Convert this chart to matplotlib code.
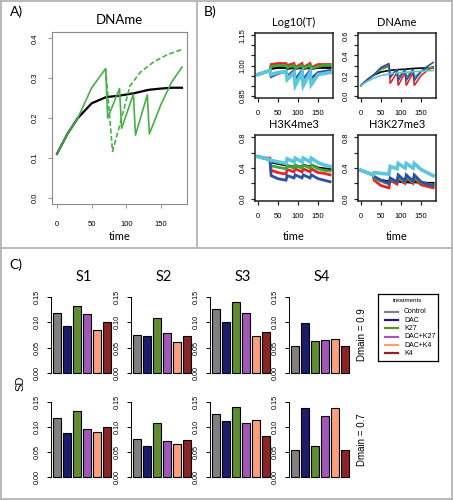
import matplotlib
matplotlib.use("Agg")
import matplotlib.pyplot as plt
from matplotlib.lines import Line2D

# ---------------- data ----------------
# panel A: DNAme
tA = [0, 15, 30, 50, 70, 73, 90, 93, 110, 113, 130, 133, 150, 165, 180]
dnaA_control = [0.11, 0.16, 0.20, 0.237, 0.252, 0.253, 0.256, 0.257, 0.262, 0.263, 0.270, 0.271, 0.274, 0.276, 0.276]
dnaA_pulse = [0.11, 0.16, 0.20, 0.276, 0.324, 0.20, 0.274, 0.174, 0.26, 0.157, 0.258, 0.16, 0.235, 0.29, 0.328]
tA_single = [70, 80, 90, 105, 120, 140, 160, 180]
dnaA_single = [0.324, 0.116, 0.18, 0.28, 0.315, 0.342, 0.36, 0.372]

# panel B: simulated marks, one series per colour
tB = [0, 15, 30, 33, 50, 70, 73, 90, 93, 110, 113, 130, 133, 150, 165, 180]
logT_black = [0.955, 0.965, 0.975, 0.985, 0.99, 0.99, 0.985, 0.99, 0.985, 0.99, 0.985, 0.99, 0.985, 0.99, 0.99, 0.99]
logT_red = [0.955, 0.965, 0.975, 1.005, 1.01, 1.01, 1.0, 1.01, 0.99, 1.01, 0.99, 1.01, 0.99, 1.005, 1.005, 1.005]
logT_green = [0.955, 0.965, 0.975, 0.995, 1.0, 1.0, 0.99, 1.0, 0.985, 1.0, 0.985, 1.0, 0.985, 0.995, 1.0, 1.0]
logT_blue = [0.955, 0.965, 0.975, 0.945, 0.96, 0.97, 0.945, 0.975, 0.93, 0.975, 0.93, 0.975, 0.935, 0.965, 0.97, 0.975]
logT_cyan = [0.955, 0.965, 0.975, 0.955, 0.965, 0.97, 0.93, 0.965, 0.90, 0.965, 0.90, 0.965, 0.905, 0.955, 0.96, 0.965]

dna_black = [0.1, 0.155, 0.2, 0.205, 0.235, 0.25, 0.252, 0.258, 0.259, 0.263, 0.264, 0.27, 0.271, 0.274, 0.276, 0.277]
dna_red = [0.1, 0.155, 0.2, 0.21, 0.27, 0.30, 0.12, 0.23, 0.10, 0.23, 0.10, 0.23, 0.10, 0.20, 0.25, 0.285]
dna_green = [0.1, 0.155, 0.2, 0.21, 0.26, 0.29, 0.20, 0.26, 0.18, 0.26, 0.18, 0.26, 0.18, 0.24, 0.27, 0.29]
dna_blue = [0.1, 0.155, 0.2, 0.21, 0.28, 0.32, 0.18, 0.26, 0.15, 0.26, 0.15, 0.26, 0.15, 0.24, 0.29, 0.33]
dna_cyan = [0.1, 0.14, 0.17, 0.175, 0.2, 0.215, 0.217, 0.225, 0.226, 0.232, 0.233, 0.238, 0.239, 0.243, 0.247, 0.25]

k4_black = [0.55, 0.53, 0.51, 0.48, 0.46, 0.44, 0.43, 0.41, 0.43, 0.41, 0.44, 0.41, 0.44, 0.40, 0.39, 0.38]
k4_red = [0.55, 0.53, 0.53, 0.37, 0.34, 0.32, 0.38, 0.35, 0.39, 0.35, 0.39, 0.35, 0.39, 0.34, 0.33, 0.31]
k4_green = [0.55, 0.53, 0.51, 0.43, 0.41, 0.39, 0.43, 0.40, 0.44, 0.40, 0.44, 0.40, 0.44, 0.39, 0.37, 0.36]
k4_blue = [0.55, 0.53, 0.51, 0.30, 0.26, 0.24, 0.30, 0.27, 0.31, 0.27, 0.31, 0.27, 0.31, 0.26, 0.24, 0.22]
k4_cyan = [0.55, 0.53, 0.51, 0.50, 0.48, 0.46, 0.52, 0.48, 0.53, 0.48, 0.53, 0.48, 0.53, 0.47, 0.44, 0.42]

k27_black = [0.37, 0.34, 0.31, 0.27, 0.24, 0.22, 0.23, 0.22, 0.23, 0.21, 0.22, 0.21, 0.22, 0.21, 0.20, 0.20]
k27_red = [0.37, 0.34, 0.31, 0.24, 0.17, 0.14, 0.24, 0.19, 0.27, 0.20, 0.27, 0.20, 0.27, 0.18, 0.16, 0.14]
k27_green = [0.37, 0.34, 0.31, 0.27, 0.23, 0.19, 0.26, 0.22, 0.28, 0.22, 0.28, 0.22, 0.28, 0.21, 0.19, 0.18]
k27_blue = [0.37, 0.34, 0.31, 0.29, 0.24, 0.20, 0.27, 0.22, 0.31, 0.23, 0.31, 0.23, 0.31, 0.22, 0.19, 0.17]
k27_cyan = [0.37, 0.34, 0.31, 0.34, 0.33, 0.32, 0.42, 0.39, 0.46, 0.40, 0.46, 0.40, 0.46, 0.38, 0.34, 0.30]

# panel C: SD per treatment
treatments = ["Control", "DAC", "K27", "DAC+K27", "DAC+K4", "K4"]
scenarios = ["S1", "S2", "S3", "S4"]
sd_09_S1 = [0.118, 0.092, 0.133, 0.117, 0.085, 0.100]
sd_09_S2 = [0.075, 0.074, 0.108, 0.078, 0.062, 0.074]
sd_09_S3 = [0.126, 0.100, 0.140, 0.119, 0.073, 0.081]
sd_09_S4 = [0.054, 0.099, 0.063, 0.066, 0.068, 0.054]
sd_07_S1 = [0.118, 0.088, 0.133, 0.096, 0.090, 0.101]
sd_07_S2 = [0.076, 0.062, 0.108, 0.072, 0.067, 0.074]
sd_07_S3 = [0.126, 0.112, 0.140, 0.108, 0.115, 0.082]
sd_07_S4 = [0.054, 0.139, 0.063, 0.122, 0.139, 0.054]

bar_cols = ["#808080", "#1c1c6c", "#5f8d2f", "#a057b8", "#f9a07a", "#8b2525"]
c_red, c_green, c_blue, c_cyan = "#e5262b", "#3aa935", "#2f4fa8", "#5cc6dd"
a_green = "#46b046"

TF = "Lato"             # titles / panel letters
plt.rcParams["font.family"] = "Liberation Sans"

W, H = 453, 500
fig = plt.figure(figsize=(W / 100, H / 100), dpi=100)


def add_ax(l, t, r, b):
    return fig.add_axes([l / W, 1 - b / H, (r - l) / W, (b - t) / H])


def ftext(x, y, s, **kw):
    fig.text(x / W, 1 - y / H, s, ha="center", va="center", **kw)


def fline(x0, y0, x1, y1):
    fig.add_artist(Line2D([x0 / W, x1 / W], [1 - y0 / H, 1 - y1 / H],
                          color="#b4b4b4", lw=1.3))


def rbox(ax, col, lw, xpad, ypad):
    for s in ax.spines.values():
        s.set_color(col)
        s.set_linewidth(lw)
    ax.tick_params(direction="out", length=3, width=lw * 0.8, color=col,
                   labelsize=5.5)
    ax.tick_params(axis="x", pad=xpad)
    ax.tick_params(axis="y", pad=ypad, labelrotation=90)
    for lb in ax.get_yticklabels():
        lb.set_va("center")


# frame
fline(1, 1, 452, 1)
fline(1, 499, 452, 499)
fline(1, 1, 1, 499)
fline(452, 1, 452, 499)
fline(197, 1, 197, 248)
fline(1, 248, 452, 248)

ftext(17, 12, "A)", fontsize=10, family=TF)
ftext(210, 12, "B)", fontsize=10, family=TF)
ftext(16, 265, "C)", fontsize=10, family=TF)

# ---------- A ----------
ax = add_ax(52, 32, 187, 204)
ax.plot(tA, dnaA_control, color="black", lw=1.6)
ax.plot(tA, dnaA_pulse, color=a_green, lw=1.2)
ax.plot(tA_single, dnaA_single, color=a_green, lw=1.2, dashes=(3, 1.5))
ax.set_xlim(-7.2, 187.2)
ax.set_ylim(-0.016, 0.416)
ax.set_xticks([0, 50, 100, 150])
ax.set_yticks([0, 0.1, 0.2, 0.3, 0.4])
ax.set_yticklabels(["0.0", "0.1", "0.2", "0.3", "0.4"])
rbox(ax, "#8a8a8a", 0.8, 9, 6.5)
ax.tick_params(labelcolor="black")
ftext(119.5, 20, "DNAme", fontsize=9.5, family=TF)
ftext(119.5, 237, "time", fontsize=8, family=TF)

# ---------- B ----------
b_panels = [
    ((255, 33, 333, 98), "Log10(T)", [logT_black, logT_red, logT_green, logT_blue, logT_cyan],
     (0.838, 1.162), [0.85, 0.90, 0.95, 1.00, 1.05, 1.10, 1.15], ["0.85", "", "", "1.00", "", "", "1.15"]),
    ((358, 33, 436, 98), "DNAme", [dna_black, dna_red, dna_green, dna_blue, dna_cyan],
     (-0.024, 0.624), [0, 0.1, 0.2, 0.3, 0.4, 0.5, 0.6], ["0.0", "", "0.2", "", "0.4", "", "0.6"]),
    ((255, 135, 333, 201), "H3K4me3", [k4_black, k4_red, k4_green, k4_blue, k4_cyan],
     (-0.032, 0.832), [0, 0.2, 0.4, 0.6, 0.8], ["0.0", "", "0.4", "", "0.8"]),
    ((358, 135, 436, 201), "H3K27me3", [k27_black, k27_red, k27_green, k27_blue, k27_cyan],
     (-0.032, 0.832), [0, 0.2, 0.4, 0.6, 0.8], ["0.0", "", "0.4", "", "0.8"]),
]
b_cols = ["black", c_red, c_green, c_blue, c_cyan]
b_lws = [2.0, 2.0, 2.0, 2.0, 2.6]
for (l, t, r, b), title, series, ylim, yt, ytl in b_panels:
    ax = add_ax(l, t, r, b)
    if title == "DNAme":
        lws = [1.2] * 5
    else:
        lws = b_lws
    for ys, c, lw in zip(series, b_cols, lws):
        ax.plot(tB, ys, color=c, lw=lw, solid_joinstyle="miter")
    ax.set_xlim(-7.2, 187.2)
    ax.set_ylim(*ylim)
    ax.set_xticks([0, 50, 100, 150])
    ax.set_yticks(yt)
    ax.set_yticklabels(ytl)
    rbox(ax, "#222222", 1.1, 5.5, 3)
    ftext((l + r) / 2, t - 10.5, title, fontsize=8, family=TF)
ftext(294, 237, "time", fontsize=8, family=TF)
ftext(397, 237, "time", fontsize=8, family=TF)

# ---------- C ----------
rows = [((294, 376), [sd_09_S1, sd_09_S2, sd_09_S3, sd_09_S4], "Dmain = 0.9"),
        ((399, 480), [sd_07_S1, sd_07_S2, sd_07_S3, sd_07_S4], "Dmain = 0.7")]
col_left = [50.7, 130.5, 209.5, 288.5]
bar_x = [0.7 + 1.2 * i for i in range(len(treatments))]
for (t, b), data, dlab in rows:
    for i, vals in enumerate(data):
        l = col_left[i]
        ax = add_ax(l, t, l + 62.6, b)
        ax.bar(bar_x, vals, width=1.0, color=bar_cols, edgecolor="black", lw=0.8)
        ax.set_xlim(-0.08, 7.48)
        ax.set_ylim(-0.006, 0.156)
        ax.set_xticks([])
        ax.set_yticks([0, 0.05, 0.10, 0.15])
        ax.set_yticklabels(["0.00", "0.05", "0.10", "0.15"])
        for s in ["top", "right", "bottom"]:
            ax.spines[s].set_visible(False)
        ax.spines["left"].set_bounds(0, 0.15)
        ax.spines["left"].set_linewidth(0.7)
        ax.tick_params(axis="y", direction="out", length=3, width=0.7,
                       labelsize=5.2, pad=4, labelrotation=90)
        for lb in ax.get_yticklabels():
            lb.set_va("center")
        ax.patch.set_visible(False)
    ftext(362, (t + b) / 2, dlab, fontsize=7, rotation=90)

for i, s in enumerate(scenarios):
    ftext(col_left[i] + 33, 277, s, fontsize=10.5, family=TF)
ftext(20, 383, "SD", fontsize=8, rotation=90)

# legend
lg = add_ax(378, 294, 438, 361)
lg.set_xlim(378, 438)
lg.set_ylim(361, 294)
lg.set_xticks([])
lg.set_yticks([])
for s in lg.spines.values():
    s.set_linewidth(0.9)
lg.text(408, 301, "treatments", fontsize=4.5, ha="center", va="center")
for i, (name, c) in enumerate(zip(treatments, bar_cols)):
    y = 311.7 + 8.33 * i
    lg.plot([385, 398], [y, y], color=c, lw=1.6)
    lg.text(404, y, name, fontsize=5, ha="left", va="center")

fig.savefig("out.png", dpi=100)
